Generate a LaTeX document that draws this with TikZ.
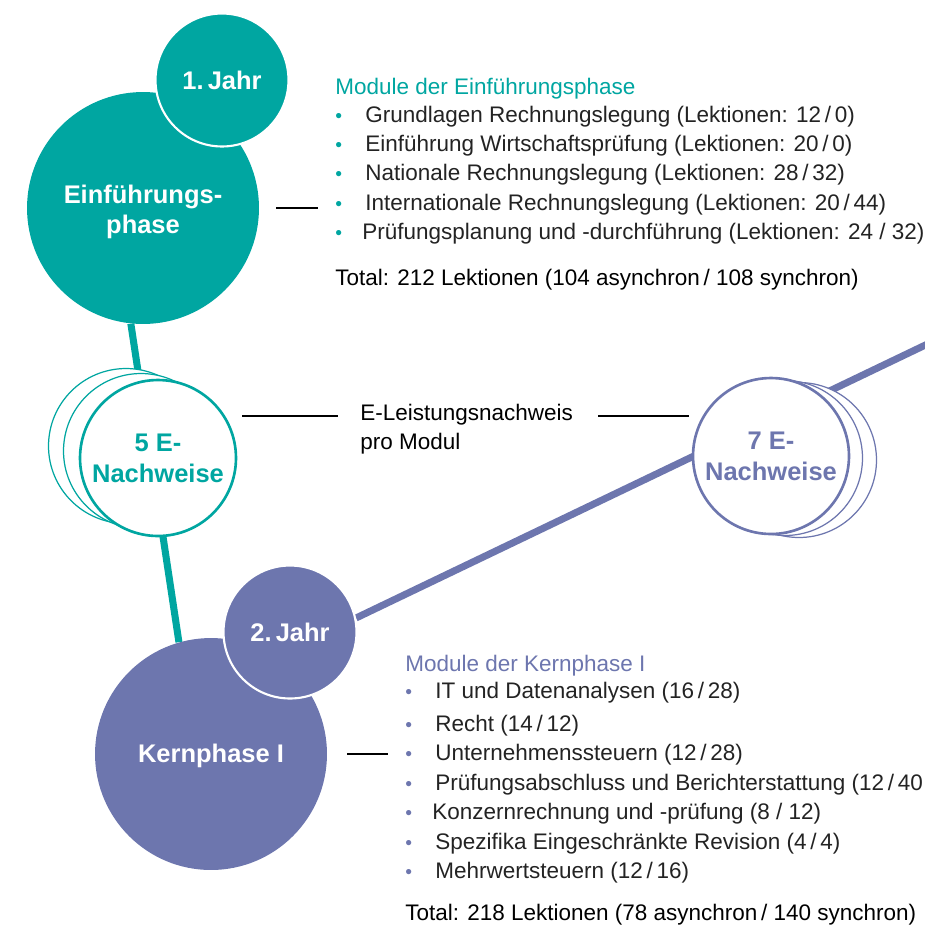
\documentclass[tikz,border=0pt]{standalone}
\usepackage{fontspec}
\setmainfont{Liberation Sans}
\usetikzlibrary{positioning,backgrounds}

\definecolor{einfteal}{RGB}{0,166,161}
\definecolor{kernblue}{RGB}{109,118,174}
\definecolor{listtext}{RGB}{35,35,35}

\newcommand{\tbul}{\makebox[0.6cm][l]{\textcolor{einfteal}{\fontsize{11}{11}\selectfont\textbullet}}}
\newcommand{\kbul}{\makebox[0.6cm][l]{\textcolor{kernblue}{\fontsize{11}{11}\selectfont\textbullet}}}

\begin{document}
\begin{tikzpicture}[
	x=0.02cm, y=-0.02cm,
	phase/.style={circle, inner sep=0pt, minimum size=4.64cm, text=white, align=center, font=\fontsize{14.5}{17.5}\selectfont\bfseries},
	year/.style={circle, inner sep=0pt, minimum size=2.66cm, draw=white, line width=1.2pt, text=white, font=\fontsize{14.5}{17.5}\selectfont\bfseries},
	proof/.style={circle, fill=white, inner sep=0pt, minimum size=3.12cm, line width=1.5pt, align=center, font=\fontsize{14.5}{17.5}\selectfont\bfseries},
	proofback/.style={circle, fill=white, inner sep=0pt, minimum size=3.1cm, line width=0.7pt},
	item/.style={anchor=mid west, inner sep=0pt, yshift=-0.06cm, text=listtext, font=\fontsize{12.8}{16}\selectfont},
	conn/.style={line width=0.7pt, black},
	track/.style={line width=4pt}
	]

	\useasboundingbox (0,0) rectangle (925,924);

	% first year
	\node (einf) [phase, fill=einfteal] at (143,208) {\rule{0pt}{15pt}Einführungs-\\phase};
		\node (jahr1) [year, fill=einfteal] at (222,80) {1.\,Jahr};

	\node (ena3) [proofback, draw=einfteal] at (126,446) {};
	\node (ena2) [proofback, draw=einfteal] at (141,451) {};
	\node (ena) [proof, draw=einfteal, text=einfteal] at (158,458) {5 E-\\Nachweise};

	% second year
	\node (kern) [phase, fill=kernblue] at (211,754) {\rule{0pt}{13pt}Kernphase I};
		\node (jahr2) [year, fill=kernblue] at (290,632) {2.\,Jahr};

	\node (sna3) [proofback, draw=kernblue] at (799,460) {};
	\node (sna2) [proofback, draw=kernblue] at (785,458) {};
	\node (sna) [proof, draw=kernblue, text=kernblue] at (771,456) {7 E-\\Nachweise};

	\node (enw1) [item, text=black] at (360,413) {E-Leistungsnachweis};
	\node (enw2) [item, text=black] at (360,442) {pro Modul};

	% modules of the first phase
	\node (etitle) [item, text=einfteal] at (335,87) {Module der Einführungsphase};
		\node (e1) [item] at (335,115) {\tbul Grundlagen Rechnungslegung (Lektionen: 12\,/\,0)};
		\node (e2) [item] at (335,144) {\tbul Einführung Wirtschaftsprüfung (Lektionen: 20\,/\,0)};
		\node (e3) [item] at (335,173) {\tbul Nationale Rechnungslegung (Lektionen: 28\,/\,32)};
		\node (e4) [item] at (335,203) {\tbul Internationale Rechnungslegung (Lektionen: 20\,/\,44)};
		\node (e5) [item] at (335,232) {\tbul\hspace{-0.06cm}Prüfungsplanung und -durchführung (Lektionen: 24 / 32)};
	\node (etotal) [item, text=black] at (335,278) {Total: 212 Lektionen (104 asynchron\,/ 108 synchron)};

	% modules of the core phase
	\node (ktitle) [item, text=kernblue] at (405,664) {Module der Kernphase I};
		\node (k1) [item] at (405,691) {\kbul IT und Datenanalysen (16\,/\,28)};
		\node (k2) [item] at (405,724) {\kbul Recht (14\,/\,12)};
		\node (k3) [item] at (405,753) {\kbul Unternehmenssteuern (12\,/\,28)};
		\node (k4) [item] at (405,783) {\kbul Prüfungsabschluss und Berichterstattung (12\,/\,40};
		\node (k5) [item] at (405,812) {\kbul\hspace{-0.06cm}Konzernrechnung und -prüfung (8 / 12)};
		\node (k6) [item] at (405,842) {\kbul Spezifika Eingeschränkte Revision (4\,/\,4)};
		\node (k7) [item] at (405,871) {\kbul Mehrwertsteuern (12\,/\,16)};
	\node (ktotal) [item, text=black] at (405,913) {Total: 218 Lektionen (78 asynchron\,/ 140 synchron)};

	\begin{pgfonlayer}{background}
		\draw [track, einfteal] (einf.-96) -- (kern.106);
		\coordinate (kernend) at (940,338);
		\draw [track, kernblue] (jahr2.12) -- (kernend);
	\end{pgfonlayer}

	\draw [conn, shorten <=0.34cm, shorten >=0.34cm] (einf.east) -- (einf.east -| e4.west);
	\draw [conn, shorten <=0.1cm, shorten >=0.44cm] (enw1.mid west -| ena.east) -- (enw1.mid west);
	\draw [conn, shorten <=0.5cm, shorten >=0.06cm] (enw1.mid east) -- (enw1.mid east -| sna.west);
	\draw [conn, shorten <=0.4cm, shorten >=0.34cm] (kern.east) -- (kern.east -| k3.west);

\end{tikzpicture}
\end{document}
